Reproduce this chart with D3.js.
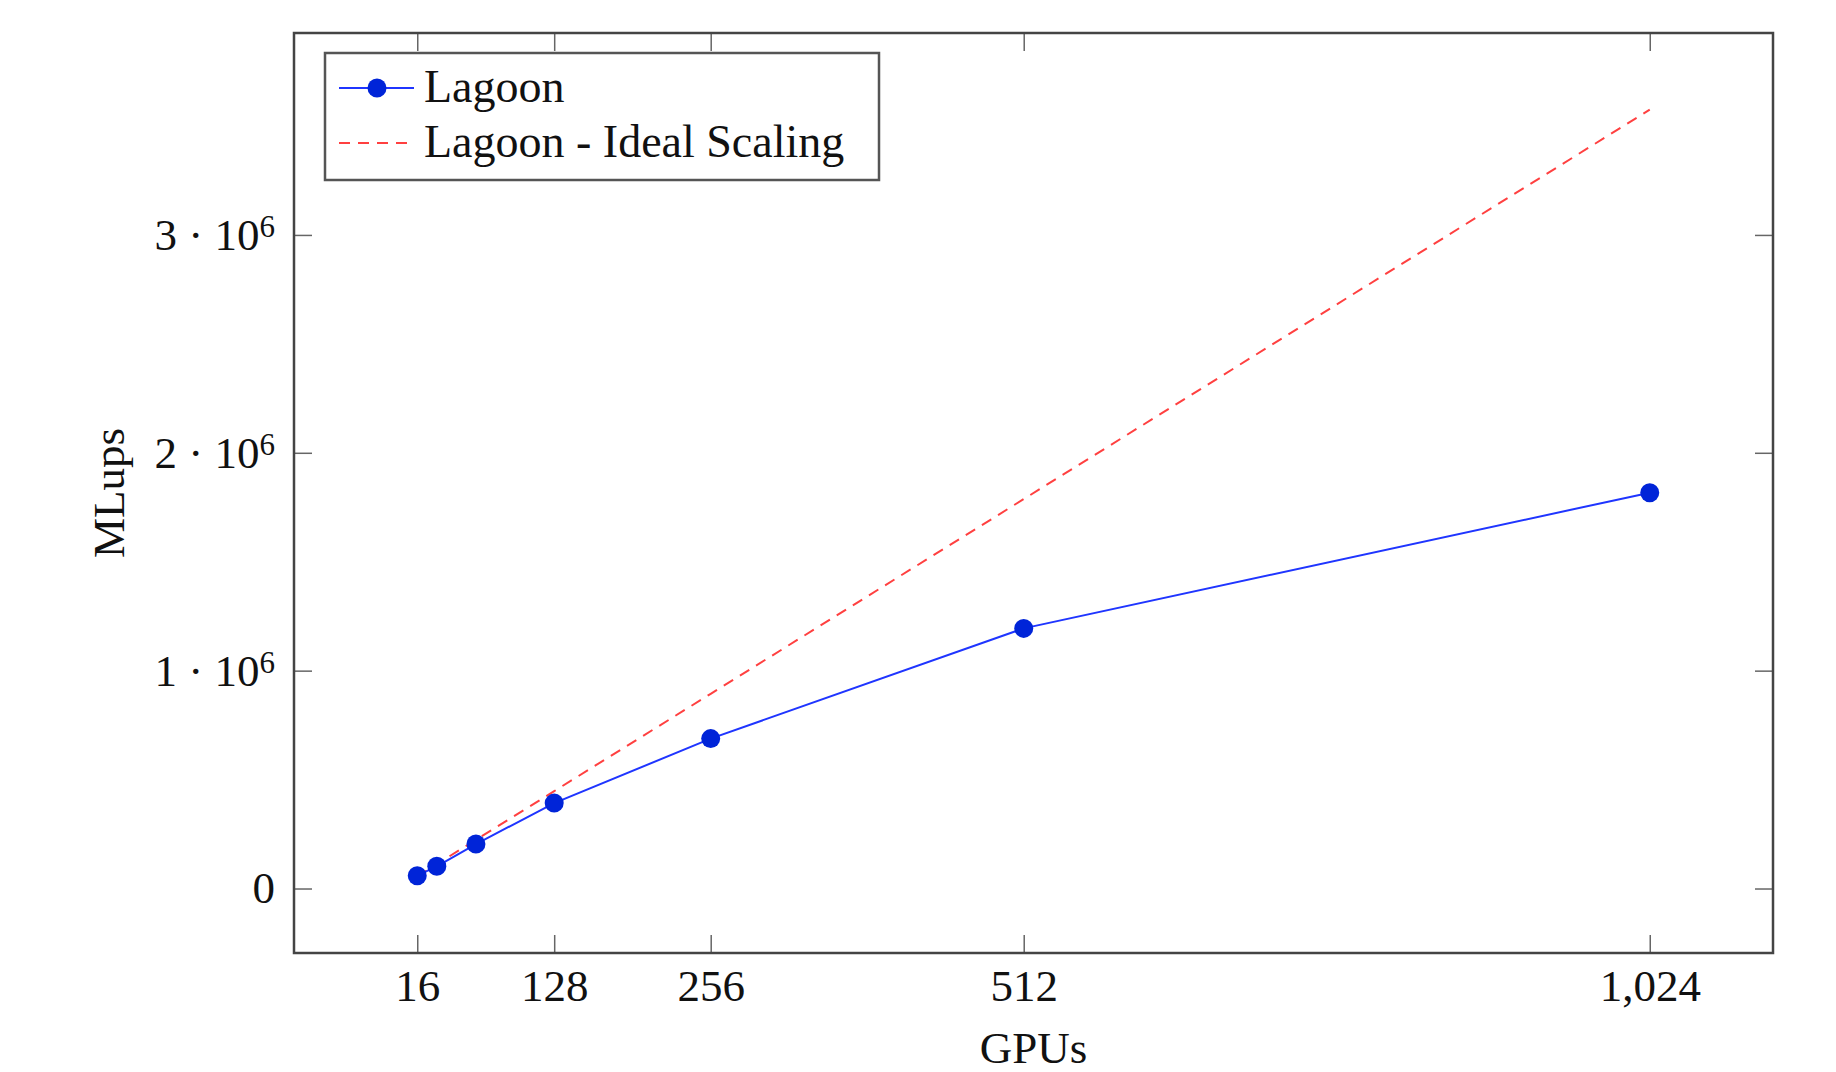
<!DOCTYPE html>
<html>
<head>
<meta charset="utf-8">
<script src="https://cdn.jsdelivr.net/npm/d3@7"></script>
<style>
  body { margin: 0; background: #fff; }
  svg text { font-family: "Liberation Serif", "DejaVu Serif", serif; fill: #111; }
</style>
</head>
<body>
<div id="chart"></div>
<script>
const gpus = [16, 32, 64, 128, 256, 512, 1024];
const lagoon = [59000, 102000, 204000, 392000, 688000, 1194000, 1817000];
const ideal = [55900, 111700, 223400, 446900, 893800, 1787500, 3575000];
const xTicks = [16, 128, 256, 512, 1024];
const yTicks = [0, 1000000, 2000000, 3000000];
const seriesNames = ["Lagoon", "Lagoon - Ideal Scaling"];

const W = 1836, H = 1072;
const margin = { top: 33, right: 63, bottom: 119, left: 294 },
      width = W - margin.left - margin.right,
      height = H - margin.top - margin.bottom;
const fs = 45;

const svg = d3.select("#chart").append("svg")
    .attr("width", W).attr("height", H);
const g = svg.append("g")
    .attr("transform", `translate(${margin.left},${margin.top})`);

// pgfplots style: 10% enlarged limits
const xPad = (1024 - 16) * 0.1;
const x = d3.scaleLinear().domain([16 - xPad, 1024 + xPad]).range([0, width]);
const yMin = 55900, yMax = 3575000, yPad = (yMax - yMin) * 0.1;
const y = d3.scaleLinear().domain([yMin - yPad, yMax + yPad]).range([height, 0]);

const tickLen = 18, tickColor = "#666";

// bottom + top axes
const xb = g.append("g").attr("transform", `translate(0,${height})`)
    .call(d3.axisBottom(x).tickValues(xTicks).tickSize(-tickLen).tickPadding(16).tickFormat(d3.format(",")));
const xt = g.append("g")
    .call(d3.axisTop(x).tickValues(xTicks).tickSize(-tickLen).tickFormat(""));
const yl = g.append("g")
    .call(d3.axisLeft(y).tickValues(yTicks).tickSize(-tickLen).tickPadding(19));
const yr = g.append("g").attr("transform", `translate(${width},0)`)
    .call(d3.axisRight(y).tickValues(yTicks).tickSize(-tickLen).tickFormat(""));

[xb, xt, yl, yr].forEach(a => {
    a.select(".domain").remove();
    a.selectAll(".tick line").attr("stroke", tickColor).attr("stroke-width", 1.5);
    a.selectAll(".tick text").style("font-size", fs + "px").attr("fill", "#111");
});

// y tick labels as "n · 10^6"
yl.selectAll(".tick text").each(function(d) {
    const t = d3.select(this);
    t.text(null);
    if (d === 0) { t.text("0"); return; }
    t.append("tspan").text(`${d / 1e6} · 10`);
    t.append("tspan").attr("dy", "-0.42em").style("font-size", "31px").text("6");
});

// frame
g.append("rect")
    .attr("width", width).attr("height", height)
    .attr("fill", "none").attr("stroke", "#444").attr("stroke-width", 2.5);

// ideal scaling
const line = d3.line().x((d, i) => x(gpus[i])).y(d => y(d));
g.append("path").datum(ideal)
    .attr("d", line)
    .attr("fill", "none").attr("stroke", "#ff4040").attr("stroke-width", 2)
    .attr("stroke-dasharray", "11 8");

// measured
g.append("path").datum(lagoon)
    .attr("d", line)
    .attr("fill", "none").attr("stroke", "#1f35ff").attr("stroke-width", 2);
g.selectAll(".pt").data(lagoon).enter().append("circle")
    .attr("class", "pt")
    .attr("cx", (d, i) => x(gpus[i])).attr("cy", d => y(d))
    .attr("r", 9.5).attr("fill", "#0024d8");

// axis labels
g.append("text")
    .attr("x", width / 2).attr("y", height + 110)
    .attr("text-anchor", "middle").style("font-size", fs + "px")
    .text("GPUs");
g.append("text")
    .attr("transform", `translate(${-170},${height / 2}) rotate(-90)`)
    .attr("text-anchor", "middle").style("font-size", fs + "px")
    .text("MLups");

// legend
const lg = g.append("g").attr("transform", "translate(31,20)");
lg.append("rect")
    .attr("width", 554).attr("height", 127)
    .attr("fill", "#fff").attr("stroke", "#555").attr("stroke-width", 2.5);
const rows = lg.selectAll(".row").data(seriesNames).enter().append("g")
    .attr("transform", (d, i) => `translate(0,${35 + i * 55})`);
rows.append("line")
    .attr("x1", 14).attr("x2", 89)
    .attr("stroke", (d, i) => i === 0 ? "#1f35ff" : "#ff4040")
    .attr("stroke-width", 2)
    .attr("stroke-dasharray", (d, i) => i === 0 ? null : "11 8");
rows.filter((d, i) => i === 0).append("circle")
    .attr("cx", 52).attr("r", 9.5).attr("fill", "#0024d8");
rows.append("text")
    .attr("x", 99).attr("y", 14)
    .style("font-size", "46px")
    .text(d => d);
</script>
</body>
</html>
